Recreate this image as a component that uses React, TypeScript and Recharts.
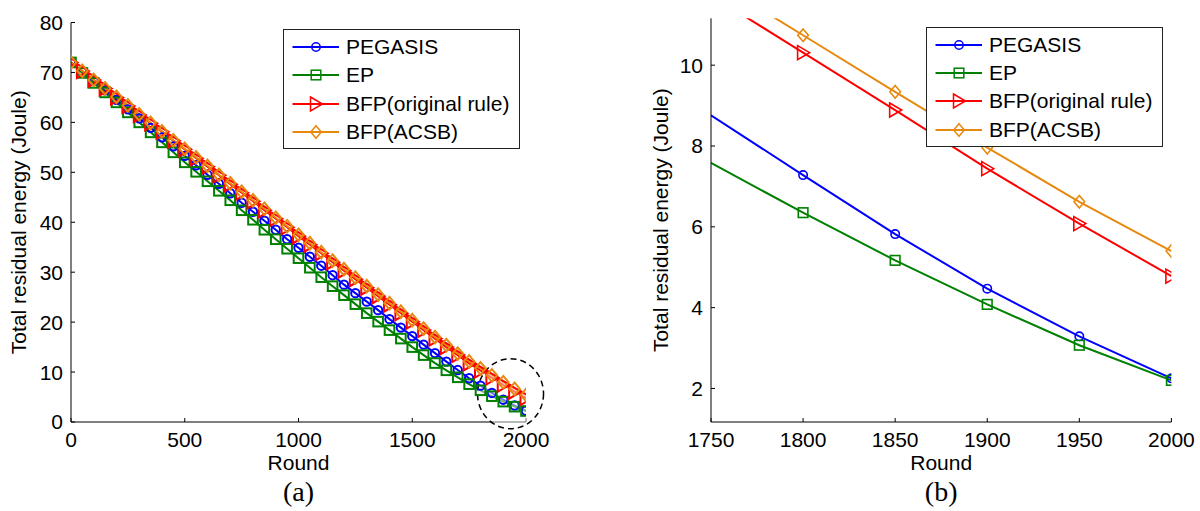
import React from 'react';
import { LineChart, Line, XAxis, YAxis, Legend, ReferenceDot, Label } from 'recharts';

// rounds sampled every 50
const rounds = [
  0, 50, 100, 150, 200, 250, 300, 350, 400, 450, 500, 550, 600, 650, 700, 750, 800, 850, 900, 950,
  1000, 1050, 1100, 1150, 1200, 1250, 1300, 1350, 1400, 1450, 1500, 1550, 1600, 1650, 1700, 1750,
  1800, 1850, 1900, 1950, 2000,
];

// total residual energy (Joule)
const pegasis = [
  72.0, 70.1, 68.3, 66.4, 64.5, 62.6, 60.8, 58.9, 57.0, 55.2, 53.3, 51.4, 49.5, 47.7, 45.8, 43.9, 42.1,
  40.3, 38.5, 36.6, 34.9, 33.1, 31.3, 29.4, 27.5, 25.8, 24.1, 22.4, 20.6, 18.9, 17.2, 15.5, 13.8, 12.1,
  10.4, 8.76, 7.28, 5.82, 4.47, 3.29, 2.25,
];
const ep = [
  72.0, 69.9, 67.9, 66.0, 64.0, 62.0, 60.0, 58.0, 56.0, 54.0, 52.0, 50.1, 48.2, 46.3, 44.4, 42.4, 40.5,
  38.5, 36.6, 34.7, 32.8, 30.9, 29.0, 27.2, 25.4, 23.6, 21.8, 20.1, 18.4, 16.7, 15.0, 13.4, 11.8, 10.35,
  8.95, 7.58, 6.35, 5.17, 4.08, 3.07, 2.2,
];
const bfpOriginal = [
  72.0, 70.3, 68.5, 66.8, 65.0, 63.3, 61.5, 59.8, 58.1, 56.3, 54.6, 52.8, 51.1, 49.4, 47.6, 45.9, 44.2,
  42.4, 40.7, 39.0, 37.2, 35.5, 33.8, 32.0, 30.3, 28.6, 26.9, 25.2, 23.5, 21.8, 20.1, 18.4, 16.7, 15.0,
  13.4, 11.73, 10.31, 8.89, 7.44, 6.08, 4.78,
];
const bfpAcsb = [
  72.0, 70.3, 68.5, 66.8, 65.1, 63.4, 61.6, 59.9, 58.2, 56.4, 54.7, 53.0, 51.3, 49.5, 47.8, 46.1, 44.4,
  42.7, 40.9, 39.2, 37.5, 35.8, 34.0, 32.3, 30.6, 28.9, 27.2, 25.5, 23.8, 22.1, 20.4, 18.7, 17.0, 15.4,
  13.7, 12.14, 10.74, 9.34, 7.96, 6.62, 5.4,
];

const leftXTicks = [0, 500, 1000, 1500, 2000];
const leftYTicks = [0, 10, 20, 30, 40, 50, 60, 70, 80];
const rightXTicks = [1750, 1800, 1850, 1900, 1950, 2000];
const rightYTicks = [2, 4, 6, 8, 10];

const data = rounds.map((round, i) => ({
  round,
  pegasis: pegasis[i],
  ep: ep[i],
  bfpOriginal: bfpOriginal[i],
  bfpAcsb: bfpAcsb[i],
}));
const zoomData = data.filter((d) => d.round >= 1750);

type Shape = 'circle' | 'square' | 'triangle' | 'diamond';

const series: { key: string; name: string; color: string; shape: Shape }[] = [
  { key: 'pegasis', name: 'PEGASIS', color: '#0000FF', shape: 'circle' },
  { key: 'ep', name: 'EP', color: '#008000', shape: 'square' },
  { key: 'bfpOriginal', name: 'BFP(original rule)', color: '#FF0000', shape: 'triangle' },
  { key: 'bfpAcsb', name: 'BFP(ACSB)', color: '#E8890F', shape: 'diamond' },
];

const font = '"Liberation Sans", Arial, Helvetica, sans-serif';
const serif = '"Liberation Serif", "Times New Roman", serif';

function Marker({ shape, cx, cy, color, sw = 1.5 }: { shape: Shape; cx: number; cy: number; color: string; sw?: number }) {
  const common = { fill: 'none', stroke: color, strokeWidth: sw };
  if (shape === 'circle') return <circle cx={cx} cy={cy} r={4.2} {...common} />;
  if (shape === 'square') return <rect x={cx - 4.8} y={cy - 4.8} width={9.6} height={9.6} {...common} />;
  if (shape === 'triangle')
    return <polygon points={`${cx - 5.5},${cy - 7} ${cx + 6.5},${cy} ${cx - 5.5},${cy + 7}`} {...common} />;
  return <polygon points={`${cx},${cy - 6.3} ${cx + 5.3},${cy} ${cx},${cy + 6.3} ${cx - 5.3},${cy}`} {...common} />;
}

function LegendBox() {
  return (
    <div
      style={{
        width: 237,
        height: 120,
        boxSizing: 'border-box',
        border: '1px solid #222',
        background: '#fff',
        paddingTop: 3,
        fontFamily: font,
        fontSize: 21,
        color: '#000',
      }}
    >
      {series.map((s) => (
        <div key={s.key} style={{ display: 'flex', alignItems: 'center', height: 28.3, lineHeight: '28px' }}>
          <svg width={62} height={28} style={{ flex: 'none' }}>
            <line x1={8.5} x2={55} y1={14} y2={14} stroke={s.color} strokeWidth={2} />
            <Marker shape={s.shape} cx={32} cy={14} color={s.color} />
          </svg>
          <span style={{ whiteSpace: 'nowrap' }}>{s.name}</span>
        </div>
      ))}
    </div>
  );
}

const tickStyle = { fill: '#000', fontSize: 21, fontFamily: font };
const axisStroke = { stroke: '#000', strokeWidth: 1 };

function Panel({
  rows,
  xDomain,
  yDomain,
  xTicks,
  yTicks,
  top,
  right,
  left,
  legendPos,
  caption,
  yLabelDx,
  minRound,
  markerStroke,
  children,
}: any) {
  return (
    <LineChart
      width={600}
      height={511}
      data={rows}
      margin={{ top, right, left, bottom: 59 }}
    >
      <XAxis
        dataKey="round"
        type="number"
        domain={xDomain}
        ticks={xTicks}
        interval={0}
        allowDataOverflow
        height={30}
        tick={tickStyle}
        tickSize={-4}
        tickMargin={14}
        axisLine={axisStroke}
        tickLine={axisStroke}
      >
        <Label value="Round" position="bottom" offset={3} fill="#000" fontSize={21} fontFamily={font} />
        <Label value={caption} position="bottom" offset={29} fill="#000" fontSize={28} fontFamily={serif} />
      </XAxis>
      <YAxis
        type="number"
        domain={yDomain}
        ticks={yTicks}
        interval={0}
        allowDataOverflow
        width={60}
        tick={tickStyle}
        tickSize={-4}
        tickMargin={12}
        axisLine={axisStroke}
        tickLine={axisStroke}
      >
        <Label
          value="Total residual energy (Joule)"
          angle={-90}
          position="center"
          dx={yLabelDx}
          fill="#000"
          fontSize={21}
          fontFamily={font}
        />
      </YAxis>
      <Legend
        layout="vertical"
        align="center"
        verticalAlign="middle"
        content={() => <LegendBox />}
        wrapperStyle={{ left: legendPos[0], top: legendPos[1], width: 237, height: 120 }}
      />
      {series.map((s) => (
        <Line
          key={s.key}
          type="linear"
          dataKey={s.key}
          name={s.name}
          stroke={s.color}
          strokeWidth={2}
          isAnimationActive={false}
          dot={(p: any) =>
            p.payload.round < minRound ? (
              <g key={`d-${s.key}-${p.index}`} />
            ) : (
              <Marker
                key={`d-${s.key}-${p.index}`}
                shape={s.shape}
                cx={p.cx}
                cy={p.cy}
                color={s.color}
                sw={markerStroke}
              />
            )
          }
          activeDot={false}
        />
      ))}
      {children}
    </LineChart>
  );
}

export default function App() {
  return (
    <div style={{ position: 'absolute', left: 0, top: 0, width: 1200, height: 511, background: '#fff' }}>
      <div style={{ position: 'absolute', left: 0, top: 0 }}>
        <Panel
          rows={data}
          xDomain={[0, 2000]}
          yDomain={[0, 80]}
          xTicks={leftXTicks}
          yTicks={leftYTicks}
          top={22.5}
          right={74}
          left={11}
          legendPos={[283, 29]}
          caption="(a)"
          yLabelDx={-22}
          minRound={0}
          markerStroke={2}
        >
          <ReferenceDot
            x={1932}
            y={5.66}
            ifOverflow="visible"
            shape={(p: any) => (
              <ellipse
                cx={p.cx}
                cy={p.cy}
                rx={33}
                ry={35}
                fill="#fff"
                fillOpacity={0.45}
                stroke="#000"
                strokeWidth={1.5}
                strokeDasharray="6 4"
              />
            )}
          />
        </Panel>
      </div>
      <div style={{ position: 'absolute', left: 600, top: 0 }}>
        <Panel
          rows={zoomData}
          xDomain={[1750, 2000]}
          yDomain={[1.17, 11.16]}
          xTicks={rightXTicks}
          yTicks={rightYTicks}
          top={18.3}
          right={28.6}
          left={51}
          legendPos={[326, 26.7]}
          caption="(b)"
          yLabelDx={-20}
          minRound={1800}
          markerStroke={1.6}
        />
      </div>
    </div>
  );
}
